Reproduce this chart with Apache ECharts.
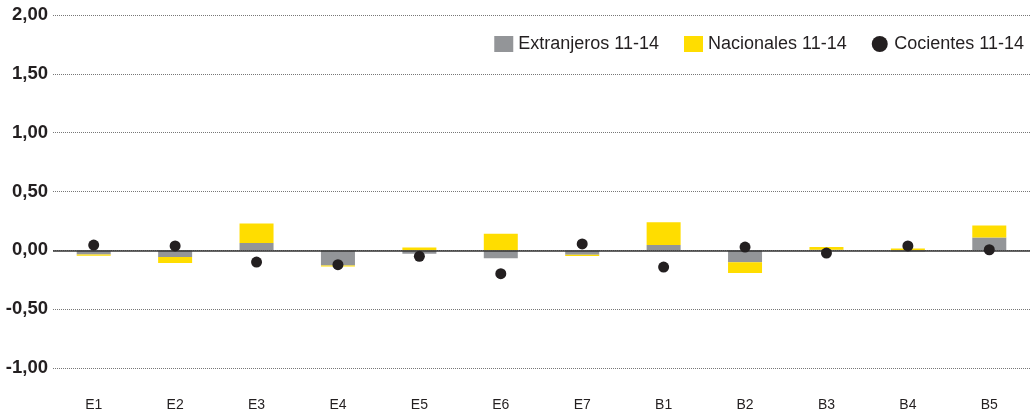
<!DOCTYPE html>
<html>
<head>
<meta charset="utf-8">
<script src="https://cdn.jsdelivr.net/npm/echarts@6/dist/echarts.min.js"></script>
<style>html,body{margin:0;padding:0;background:#fff}#c{width:1035px;height:413px}</style>
</head>
<body>
<div id="c"></div>
<script>
const categories = ['E1','E2','E3','E4','E5','E6','E7','B1','B2','B3','B4','B5'];
const extranjeros = [-0.035,-0.057,0.062,-0.128,-0.03,-0.068,-0.037,0.045,-0.102,0.004,-0.01,0.11];
const nacionales = [-0.01,-0.05,0.167,-0.01,0.025,0.14,-0.012,0.193,-0.09,0.025,0.015,0.10];
const cocientes = [0.045,0.037,-0.10,-0.122,-0.051,-0.198,0.054,-0.142,0.028,-0.023,0.037,0.005];
const yTicks = {min:-1, max:2, interval:0.5};

const chart = echarts.init(document.getElementById('c'));
const font = 'Liberation Sans, Arial, Helvetica, sans-serif';
chart.setOption({
  animation:false,
  textStyle:{fontFamily:font},
  legend:{
    right:6, top:30, itemWidth:19, itemHeight:16, itemGap:25,
    textStyle:{fontSize:18, color:'#231F20', fontFamily:font},
    data:[
      {name:'Extranjeros 11-14', icon:'rect'},
      {name:'Nacionales 11-14', icon:'rect'},
      {name:'Cocientes 11-14', icon:'circle'}
    ]
  },
  grid:{left:53, right:5, top:15, bottom:45},
  xAxis:{
    type:'category', data:categories,
    axisLine:{show:false}, axisTick:{show:false},
    axisLabel:{fontSize:14, color:'#231F20', margin:30, fontFamily:font}
  },
  yAxis:{
    type:'value', min:yTicks.min, max:yTicks.max, interval:yTicks.interval,
    axisLine:{show:false}, axisTick:{show:false},
    axisLabel:{fontSize:18.5, fontWeight:'bold', color:'#231F20', margin:5, fontFamily:font,
      formatter:v=>v.toFixed(2).replace('.',',')},
    splitLine:{lineStyle:{type:[1,1], color:'#777', width:1}}
  },
  series:[
    {name:'Extranjeros 11-14', type:'bar', stack:'s', data:extranjeros, barWidth:34,
      itemStyle:{color:'#939598'},
      markLine:{silent:true, symbol:'none', label:{show:false},
        lineStyle:{color:'#333', type:'solid', width:1.5}, data:[{yAxis:0}]}},
    {name:'Nacionales 11-14', type:'bar', stack:'s', data:nacionales, barWidth:34,
      itemStyle:{color:'#FFDD00'}},
    {name:'Cocientes 11-14', type:'scatter', data:cocientes, symbolSize:11, z:5,
      itemStyle:{color:'#231F20', opacity:1}}
  ]
});
</script>
</body>
</html>
